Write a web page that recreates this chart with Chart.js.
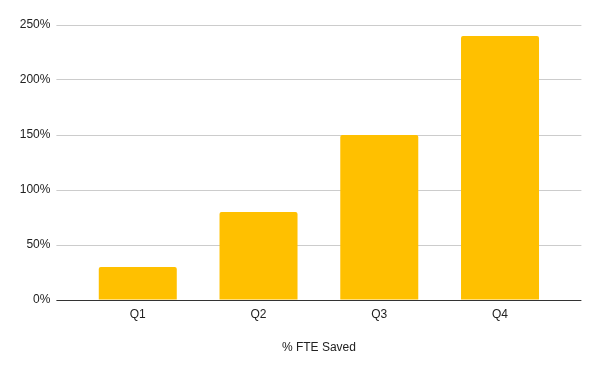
<!DOCTYPE html>
<html>
<head>
<meta charset="utf-8">
<script src="https://cdn.jsdelivr.net/npm/chart.js@4"></script>
<style>
  body { margin: 0; background: #fff; }
</style>
</head>
<body>
<canvas id="fteChart" width="600" height="371"></canvas>
<script>
/* ===== DATA ===== */
const quarters = ["Q1", "Q2", "Q3", "Q4"];
const fteSaved = [30, 80, 150, 240];
const yTicks = [0, 50, 100, 150, 200, 250];
const xTitle = "% FTE Saved";

const gridColor = (ctx) => (ctx.tick && ctx.tick.value === 0 ? "#333333" : "#cccccc");
const font = { family: "'Liberation Sans', Arial, sans-serif", size: 12 };

const ctx = document.getElementById("fteChart").getContext("2d");
new Chart(ctx, {
    type: "bar",
    data: {
        labels: quarters,
        datasets: [{
            data: fteSaved,
            backgroundColor: "#ffc000",
            borderRadius: 2,
            borderSkipped: "start",
            categoryPercentage: 1,
            barPercentage: 0.646
        }]
    },
    options: {
        responsive: false,
        animation: false,
        layout: { padding: { top: 25, right: 18.6, left: 0, bottom: 0 } },
        plugins: { legend: { display: false }, tooltip: { enabled: false } },
        scales: {
            x: {
                grid: { display: false, drawTicks: false },
                border: { display: false },
                ticks: { color: "#222", font: font, padding: 7 },
                title: { display: true, text: xTitle, color: "#222", font: font, padding: { top: 12, bottom: 16 } },
                afterFit: (s) => { s.height = 71; }
            },
            y: {
                min: 0,
                max: 250,
                afterBuildTicks: (s) => { s.ticks = yTicks.map(v => ({ value: v })); },
                grid: { color: gridColor, tickLength: 21, drawTicks: true },
                border: { display: false },
                ticks: { color: "#222", font: font, padding: 6, callback: (v) => v + "%" },
                afterFit: (s) => { s.width = 77.4; }
            },
            y2: {
                position: "right",
                min: 0,
                max: 250,
                afterBuildTicks: (s) => { s.ticks = yTicks.map(v => ({ value: v })); },
                grid: { color: gridColor, tickLength: 21, drawTicks: true, drawOnChartArea: false },
                border: { display: false },
                ticks: { display: false },
                afterFit: (s) => { s.width = 21; }
            }
        }
    }
});
</script>
</body>
</html>
